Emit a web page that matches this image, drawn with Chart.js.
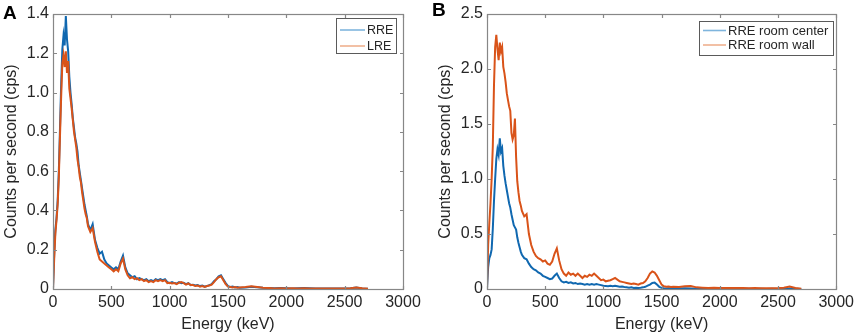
<!DOCTYPE html>
<html>
<head>
<meta charset="utf-8">
<script src="https://cdn.jsdelivr.net/npm/chart.js@4/dist/chart.umd.min.js"></script>
<style>
  html, body { margin: 0; padding: 0; background: #fff; }
  body { width: 858px; height: 334px; position: relative; overflow: hidden; }
  canvas { position: absolute; top: 0; }
  #cA { left: 0; }
  #cB { left: 429px; }
</style>
</head>
<body>
<canvas id="cA" width="429" height="334"></canvas>
<canvas id="cB" width="429" height="334"></canvas>
<script>
// ---------- DATA ----------
const energy = [
  0,10,20,30,40,50,60,70,80,90,
  100,110,120,130,140,150,160,170,180,190,
  200,210,220,230,240,250,260,270,280,290,
  300,
  320,340,360,380,400,420,440,460,480,500,
  520,540,560,580,600,620,640,660,680,700,
  720,740,760,780,800,820,840,860,880,900,
  920,940,960,980,1000,1020,1040,1060,1080,1100,
  1120,1140,1160,1180,1200,1220,1240,1260,1280,1300,
  1320,1340,1360,1380,1400,1420,1440,1460,1480,1500,
  1520,1540,1560,1580,1600,
  1650,1700,1750,1800,1850,1900,1950,2000,2050,2100,
  2150,2200,2250,2300,2350,2400,2450,2500,2550,2600,
  2650,2700
];

// Panel A: RRE
const rreA = [
  0.00,0.18,0.30,0.36,0.45,0.60,0.82,1.04,1.22,1.29,
  1.24,1.39,1.27,1.21,1.08,1.00,0.94,0.87,0.82,0.77,
  0.74,0.70,0.63,0.59,0.55,0.51,0.47,0.43,0.40,0.37,
  0.33,
  0.30,0.33,0.25,0.21,0.18,0.19,0.15,0.13,0.12,0.11,
  0.10,0.11,0.10,0.14,0.17,0.11,0.08,0.07,0.06,0.065,
  0.05,0.055,0.05,0.045,0.05,0.04,0.045,0.04,0.05,0.045,
  0.05,0.045,0.05,0.035,0.03,0.035,0.03,0.028,0.035,0.03,
  0.032,0.025,0.03,0.02,0.022,0.018,0.02,0.015,0.018,0.012,
  0.015,0.02,0.025,0.04,0.05,0.065,0.07,0.05,0.03,0.015,
  0.01,0.012,0.008,0.01,0.007,
  0.008,0.012,0.009,0.006,0.005,0.004,0.005,0.004,0.003,0.004,
  0.005,0.004,0.003,0.003,0.002,0.003,0.002,0.003,0.004,0.007,
  0.003,0.001
];

// Panel A: LRE
const lreA = [
  0.00,0.15,0.28,0.35,0.43,0.57,0.78,0.98,1.15,1.19,
  1.13,1.21,1.10,1.16,1.02,0.97,0.92,0.86,0.80,0.76,
  0.72,0.66,0.62,0.57,0.54,0.49,0.45,0.41,0.38,0.36,
  0.32,
  0.29,0.31,0.24,0.19,0.15,0.14,0.13,0.12,0.11,0.10,
  0.09,0.10,0.09,0.13,0.155,0.10,0.07,0.055,0.06,0.05,
  0.055,0.045,0.05,0.04,0.045,0.035,0.04,0.035,0.045,0.04,
  0.045,0.04,0.045,0.03,0.032,0.028,0.03,0.025,0.032,0.035,
  0.03,0.022,0.028,0.02,0.02,0.015,0.018,0.012,0.015,0.01,
  0.015,0.018,0.022,0.035,0.05,0.06,0.065,0.045,0.025,0.012,
  0.01,0.008,0.01,0.007,0.008,
  0.01,0.014,0.01,0.006,0.005,0.003,0.004,0.003,0.004,0.002,
  0.004,0.003,0.002,0.003,0.002,0.002,0.003,0.002,0.004,0.008,
  0.004,0.001
];

// Panel B: RRE room center
const centerB = [
  0.00,0.20,0.28,0.31,0.36,0.55,0.80,1.00,1.18,1.27,
  1.22,1.37,1.25,1.28,1.12,1.03,0.96,0.90,0.84,0.78,
  0.74,0.68,0.63,0.58,0.56,0.54,0.47,0.42,0.38,0.34,
  0.31,
  0.28,0.27,0.23,0.20,0.18,0.17,0.15,0.14,0.12,0.11,
  0.10,0.09,0.095,0.12,0.14,0.10,0.07,0.06,0.065,0.055,
  0.06,0.05,0.055,0.045,0.05,0.045,0.04,0.045,0.04,0.045,
  0.04,0.045,0.04,0.035,0.03,0.028,0.025,0.03,0.025,0.03,
  0.025,0.02,0.022,0.018,0.015,0.012,0.015,0.01,0.012,0.01,
  0.012,0.015,0.02,0.03,0.04,0.055,0.058,0.04,0.02,0.01,
  0.006,0.005,0.006,0.004,0.005,
  0.004,0.006,0.004,0.003,0.003,0.002,0.003,0.002,0.002,0.002,
  0.003,0.002,0.002,0.001,0.002,0.001,0.002,0.001,0.002,0.004,
  0.002,0.001
];

// Panel B: RRE room wall
const wallB = [
  0.00,0.40,0.60,0.78,1.00,1.30,1.85,2.20,2.31,2.18,
  2.08,2.24,2.16,2.20,2.02,1.96,1.88,1.78,1.72,1.66,
  1.62,1.42,1.36,1.40,1.55,1.20,0.98,0.88,0.80,0.76,
  0.71,
  0.66,0.68,0.50,0.40,0.34,0.30,0.28,0.27,0.25,0.26,
  0.23,0.22,0.25,0.32,0.37,0.26,0.18,0.14,0.12,0.15,
  0.13,0.14,0.12,0.14,0.12,0.10,0.12,0.11,0.13,0.12,
  0.14,0.12,0.10,0.08,0.085,0.07,0.075,0.08,0.09,0.10,
  0.085,0.07,0.065,0.06,0.055,0.05,0.045,0.05,0.045,0.04,
  0.05,0.055,0.07,0.10,0.14,0.16,0.15,0.12,0.08,0.04,
  0.025,0.02,0.022,0.018,0.02,
  0.018,0.025,0.028,0.015,0.012,0.01,0.012,0.009,0.01,0.008,
  0.01,0.008,0.007,0.008,0.006,0.007,0.006,0.008,0.012,0.022,
  0.01,0.003
];

const xTicks = [0, 500, 1000, 1500, 2000, 2500, 3000];
const yTicksA = [0, 0.2, 0.4, 0.6, 0.8, 1.0, 1.2, 1.4];
const yTicksB = [0, 0.5, 1.0, 1.5, 2.0, 2.5];
const panelLabels = ['A', 'B'];
const seriesLabelsA = ['RRE', 'LRE'];
const seriesLabelsB = ['RRE room center', 'RRE room wall'];

// ---------- STYLE ----------
const FONT = "'Liberation Sans', Arial, Helvetica, sans-serif";
const BLUE = '#1068b0';
const ORANGE = '#d95319';
const BLUE_LEG = '#7fb5dd';
const ORANGE_LEG = '#efb08f';
const TXT = '#262626';

const pts = (ys) => energy.map((e, i) => ({ x: e, y: ys[i] }));

const framePlugin = {
  id: 'frame',
  afterDatasetsDraw(chart, args, o) {
    const { ctx, chartArea: a, scales: { x, y } } = chart;
    ctx.save();
    ctx.strokeStyle = '#878787';
    ctx.lineWidth = 1.2;
    const l = Math.round(a.left) + 0.5, t = Math.round(a.top) + 0.5;
    const r = Math.round(a.right) + 0.5, b = Math.round(a.bottom) + 0.5;
    ctx.strokeRect(l, t, r - l, b - t);
    const L = 3.5;
    ctx.beginPath();
    x.ticks.forEach(tk => {
      const px = Math.round(x.getPixelForValue(tk.value)) + 0.5;
      ctx.moveTo(px, b); ctx.lineTo(px, b - L);
      ctx.moveTo(px, t); ctx.lineTo(px, t + L);
    });
    y.ticks.forEach(tk => {
      const py = Math.round(y.getPixelForValue(tk.value)) + 0.5;
      ctx.moveTo(l, py); ctx.lineTo(l + L, py);
      ctx.moveTo(r, py); ctx.lineTo(r - L, py);
    });
    ctx.stroke();

    const lg = o.legend;
    ctx.fillStyle = '#ffffff';
    ctx.fillRect(lg.x, lg.y, lg.w, lg.h);
    ctx.strokeStyle = '#5a5a5a';
    ctx.lineWidth = 1;
    ctx.strokeRect(lg.x + 0.5, lg.y + 0.5, lg.w, lg.h);
    ctx.font = lg.fontSize + 'px ' + FONT;
    ctx.textBaseline = 'middle';
    ctx.textAlign = 'left';
    chart.data.datasets.forEach((ds, i) => {
      const ry = lg.rows[i];
      ctx.strokeStyle = ds.legendColor;
      ctx.lineWidth = 1.6;
      ctx.beginPath();
      ctx.moveTo(lg.lineX1, ry); ctx.lineTo(lg.lineX2, ry);
      ctx.stroke();
      ctx.fillStyle = TXT;
      ctx.fillText(ds.label, lg.textX, ry + 0.5);
    });

    ctx.fillStyle = '#000';
    ctx.font = 'bold 19px ' + FONT;
    ctx.textBaseline = 'alphabetic';
    ctx.fillText(o.panel, o.panelX, o.panelY);
    ctx.restore();
  }
};

function makeChart(id, datasets, yMax, yTickList, cfg) {
  return new Chart(document.getElementById(id), {
    type: 'line',
    data: { datasets },
    options: {
      responsive: false,
      maintainAspectRatio: false,
      animation: false,
      events: [],
      devicePixelRatio: 1,
      layout: { padding: { left: 0, top: 14, right: cfg.padRight, bottom: 0 } },
      elements: { point: { radius: 0 }, line: { tension: 0 } },
      plugins: {
        legend: { display: false },
        tooltip: { enabled: false },
        frame: cfg.frame
      },
      scales: {
        x: {
          type: 'linear',
          min: 0, max: 3000,
          afterBuildTicks: (s) => { s.ticks = xTicks.map(v => ({ value: v })); },
          afterFit: (s) => { s.height = 45; },
          grid: { display: false, drawTicks: false },
          border: { display: false },
          ticks: {
            color: TXT,
            font: { family: FONT, size: 16 },
            padding: 4,
            maxRotation: 0,
            autoSkip: false,
            callback: (v) => String(v)
          },
          title: {
            display: true,
            text: 'Energy (keV)',
            color: TXT,
            font: { family: FONT, size: 16 },
            padding: { top: 0, bottom: 0 }
          }
        },
        y: {
          type: 'linear',
          min: 0, max: yMax,
          afterBuildTicks: (s) => { s.ticks = yTickList.map(v => ({ value: v })); },
          afterFit: (s) => { s.width = cfg.yWidth; },
          grid: { display: false, drawTicks: false },
          border: { display: false },
          ticks: {
            color: TXT,
            font: { family: FONT, size: 16 },
            padding: 4,
            autoSkip: false,
            callback: (v) => (v === 0 ? '0' : v.toFixed(1))
          },
          title: {
            display: true,
            text: 'Counts per second (cps)',
            color: TXT,
            font: { family: FONT, size: 16 },
            padding: { top: cfg.yTitlePad, bottom: 0 }
          }
        }
      }
    },
    plugins: [framePlugin]
  });
}

makeChart('cA', [
  { label: seriesLabelsA[0], data: pts(rreA), borderColor: BLUE, legendColor: BLUE_LEG, borderWidth: 2, order: 1 },
  { label: seriesLabelsA[1], data: pts(lreA), borderColor: ORANGE, legendColor: ORANGE_LEG, borderWidth: 2, order: 0 }
], 1.4, yTicksA, {
  padRight: 26, yWidth: 53, yTitlePad: 2.4,
  frame: {
    panel: panelLabels[0], panelX: 3, panelY: 18.5,
    legend: { x: 336, y: 18, w: 60, h: 35, lineX1: 340, lineX2: 365, textX: 367, rows: [30, 46], fontSize: 12.5 }
  }
});

makeChart('cB', [
  { label: seriesLabelsB[0], data: pts(centerB), borderColor: BLUE, legendColor: BLUE_LEG, borderWidth: 2, order: 1 },
  { label: seriesLabelsB[1], data: pts(wallB), borderColor: ORANGE, legendColor: ORANGE_LEG, borderWidth: 2, order: 0 }
], 2.5, yTicksB, {
  padRight: 20, yWidth: 58, yTitlePad: 7.4,
  frame: {
    panel: panelLabels[1], panelX: 3, panelY: 16,
    legend: { x: 270, y: 21, w: 134, h: 34, lineX1: 274, lineX2: 297, textX: 299, rows: [30.5, 45], fontSize: 13 }
  }
});
</script>
</body>
</html>
